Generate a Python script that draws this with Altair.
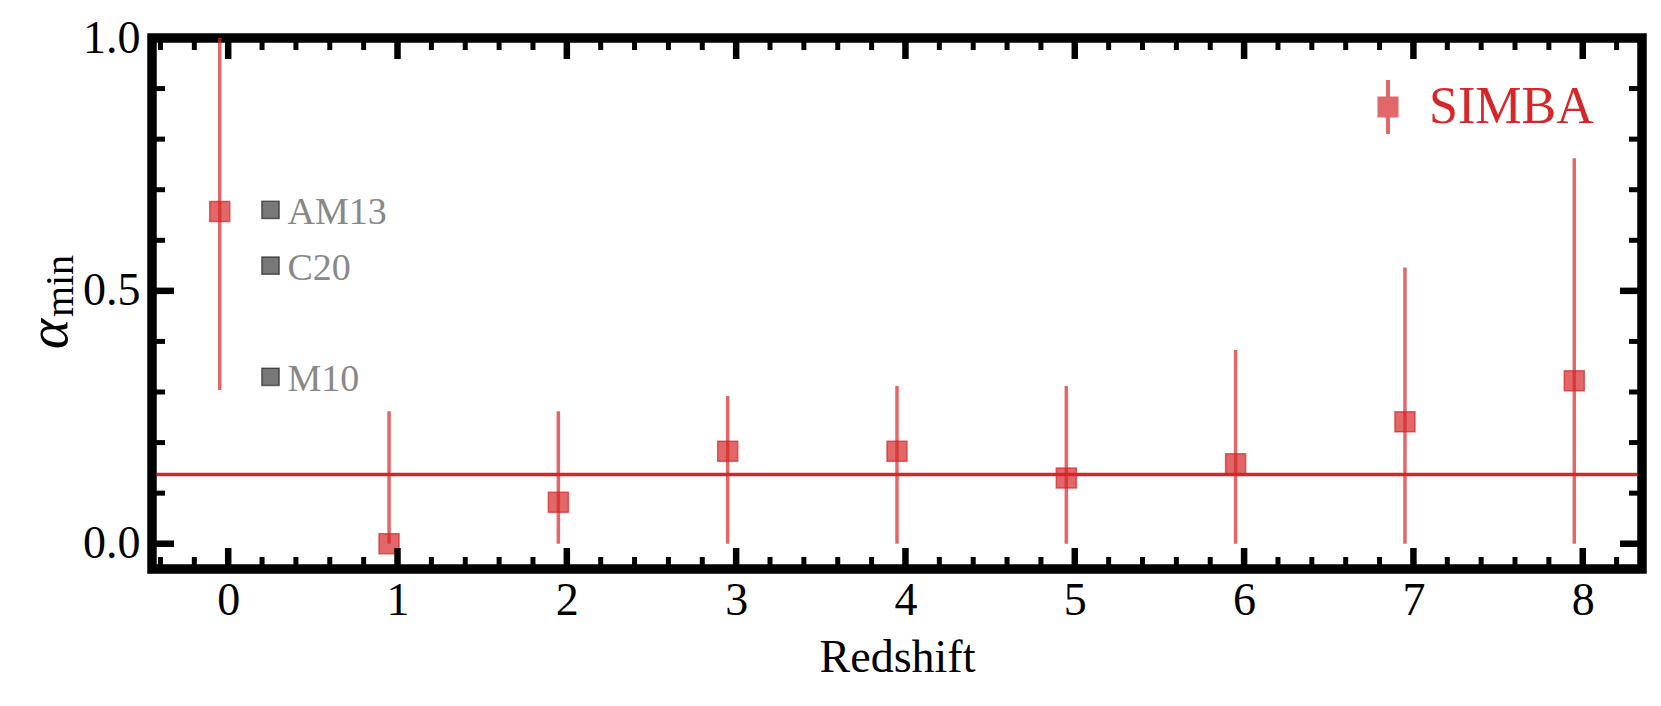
import altair as alt
import pandas as pd

# ---------------- data ----------------
REDSHIFT = [0, 1, 2, 3, 4, 5, 6, 7, 8]
ALPHA_MIN = [0.657, 0.0, 0.082, 0.183, 0.183, 0.130, 0.158, 0.241, 0.322]
ERR_LO = [0.304, 0.0, 0.0, 0.0, 0.0, 0.0, 0.0, 0.0, 0.0]
ERR_HI = [1.0, 0.262, 0.262, 0.292, 0.312, 0.312, 0.383, 0.546, 0.762]
HLINE = [0.137]

REF_NAMES = ["AM13", "C20", "M10"]
REF_X = [0.25, 0.25, 0.25]
REF_Y = [0.66, 0.55, 0.33]

X_LABELS = [0, 1, 2, 3, 4, 5, 6, 7, 8]
Y_LABELS = [0.0, 0.5, 1.0]
X_MINOR = [round(i * 0.2, 1) for i in range(-2, 42) if i % 5 != 0]
Y_MINOR = [0.1, 0.2, 0.3, 0.4, 0.6, 0.7, 0.8, 0.9]
YTITLE = ["α", "min"]

# ---------------- style ----------------
RED = "#d62728"
FONT = "Liberation Serif"
W, H = 1490, 531
DODGE = -0.05
XDOM = [-0.45, 8.35]
YDOM = [-0.05, 1.0]
MAJ, MIN_ = 21, 12

xs = alt.Scale(domain=XDOM, nice=False, zero=False)
ys = alt.Scale(domain=YDOM, nice=False, zero=False)

xaxis = alt.Axis(values=X_LABELS, format="d", ticks=False, tickSize=0, domain=False,
                 grid=False, labelFont=FONT, labelFontSize=46, labelColor="black",
                 labelPadding=9, title="Redshift", titleFont=FONT, titleFontSize=46,
                 titleFontWeight="normal", titleColor="black", titlePadding=12)
yaxis = alt.Axis(values=Y_LABELS, format=".1f", ticks=False, tickSize=0, domain=False,
                 grid=False, labelFont=FONT, labelFontSize=46, labelColor="black",
                 labelPadding=12, title="")


def X(field):
    return alt.X(field, scale=xs, axis=xaxis)


def Y(field):
    return alt.Y(field, scale=ys, axis=yaxis)


pts = pd.DataFrame({"z": REDSHIFT, "a": ALPHA_MIN, "lo": ERR_LO, "hi": ERR_HI,
                    "series": ["SIMBA"] * len(REDSHIFT)})
base = alt.Chart(pts).transform_calculate(xpos=f"datum.z + ({DODGE})")

errbars = base.mark_rule(color=RED, strokeWidth=3.5, opacity=0.7).encode(
    x=X("xpos:Q"), y=Y("lo:Q"), y2="hi:Q")

hline = alt.Chart(pd.DataFrame({"h": HLINE})).mark_rule(color=RED, strokeWidth=3.5).encode(
    y=Y("h:Q"), x=alt.value(5), x2=alt.value(W - 5))

symbol_path = "M-1,-1H1V1H-1Z M-0.19,-2.57H0.19V2.57H-0.19Z"
squares = base.mark_square(size=400, filled=True, fillOpacity=0.7, stroke=RED,
                           strokeOpacity=0.7, strokeWidth=1.5).encode(
    x=X("xpos:Q"), y=Y("a:Q"),
    color=alt.Color("series:N", scale=alt.Scale(domain=["SIMBA"], range=[RED]),
                    legend=alt.Legend(orient="none", legendX=1210, legendY=43, title=None,
                                      symbolType=symbol_path, symbolSize=441,
                                      symbolOpacity=0.7, symbolStrokeWidth=0,
                                      labelFont=FONT, labelFontSize=52, labelColor=RED,
                                      labelOffset=15, labelLimit=500, padding=0)),
)

refs = pd.DataFrame({"name": REF_NAMES, "rx": REF_X, "ry": REF_Y})
ref_sq = alt.Chart(refs).mark_square(size=300, filled=True, color="black", fillOpacity=0.53,
                                     stroke="black", strokeOpacity=0.53, strokeWidth=1.5).encode(
    x=X("rx:Q"), y=Y("ry:Q"))
ref_tx = alt.Chart(refs).mark_text(align="left", baseline="middle", dx=17, dy=3, font=FONT,
                                   fontSize=38, color="#888888").encode(
    x=X("rx:Q"), y=Y("ry:Q"), text="name:N")


# inward ticks (rules mapped through the shared scales)
def xticks(vals, length, width):
    d = alt.Chart(pd.DataFrame({"t": vals}))
    bottom = d.mark_rule(color="black", strokeWidth=width).encode(
        x=X("t:Q"), y=alt.value(H), y2=alt.value(H - length))
    top = d.mark_rule(color="black", strokeWidth=width).encode(
        x=X("t:Q"), y=alt.value(0), y2=alt.value(length))
    return [bottom, top]


def yticks(vals, length, width):
    d = alt.Chart(pd.DataFrame({"t": vals}))
    left = d.mark_rule(color="black", strokeWidth=width).encode(
        y=Y("t:Q"), x=alt.value(0), x2=alt.value(length))
    right = d.mark_rule(color="black", strokeWidth=width).encode(
        y=Y("t:Q"), x=alt.value(W), x2=alt.value(W - length))
    return [left, right]


tick_layers = (xticks(X_LABELS, MAJ, 6.5) + xticks(X_MINOR, MIN_, 5)
               + yticks(Y_LABELS, MAJ + 1, 6.5) + yticks(Y_MINOR, MIN_ + 1, 5))

yt = pd.DataFrame({"t": YTITLE})
ytitle_a = alt.Chart(yt).transform_filter("datum.t == 'α'").mark_text(
    angle=270, align="center", baseline="alphabetic", font=FONT, fontStyle="italic",
    fontSize=58, color="black").encode(text="t:N", x=alt.value(-85), y=alt.value(296))
ytitle_s = alt.Chart(yt).transform_filter("datum.t == 'min'").mark_text(
    angle=270, align="center", baseline="alphabetic", font=FONT,
    fontSize=40, color="black").encode(text="t:N", x=alt.value(-79), y=alt.value(248))

chart = alt.layer(errbars, hline, squares, ref_sq, ref_tx, *tick_layers, ytitle_a, ytitle_s).properties(
    width=W, height=H,
    autosize=alt.AutoSizeParams(type="none"),
    padding={"left": 144, "top": 30, "right": 11, "bottom": 121},
    background="white",
).configure_view(stroke="black", strokeWidth=9.5)

chart.save("out.html", embed_options={"renderer": "svg", "actions": False})
